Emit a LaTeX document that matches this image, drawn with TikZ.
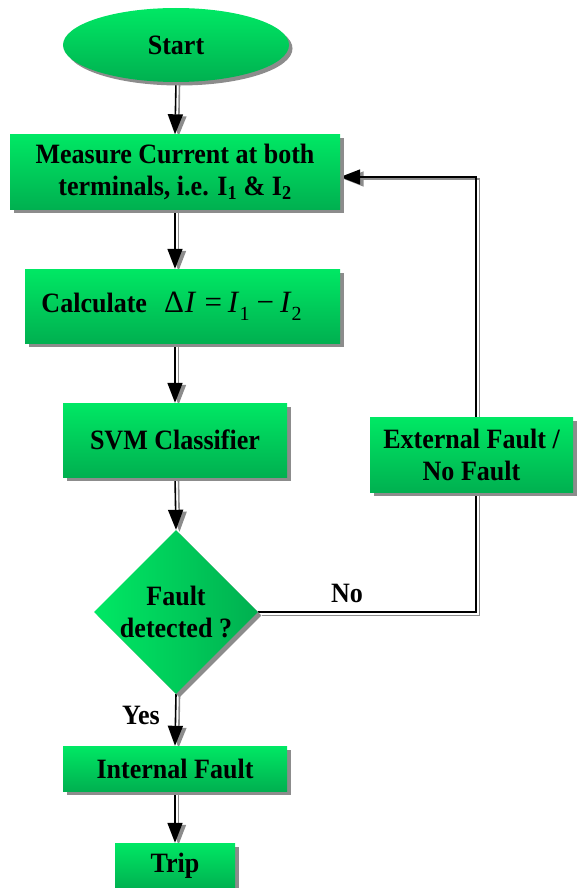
\documentclass[tikz,border=0pt]{standalone}
\usepackage{fontspec}
\setmainfont{Liberation Serif}[FakeStretch=0.93]
\newfontfamily\mathserif{Liberation Serif}
\usetikzlibrary{shapes.geometric,shadows,arrows.meta,backgrounds}
\definecolor{gtop}{RGB}{0,232,100}
\definecolor{gbot}{RGB}{0,176,80}
\definecolor{shade}{RGB}{140,140,140}
\tikzset{
  x=1pt,y=-1pt,
  base/.style={inner sep=0pt, align=center, text=black,
    font=\bfseries\fontsize{28}{32}\selectfont,
    drop shadow={shadow xshift=3.5pt, shadow yshift=-3.5pt, fill=shade, opacity=1}},
  procbox/.style={base, rectangle, top color=gtop, bottom color=gbot},
  termnode/.style={base, ellipse, top color=gtop, bottom color=gbot},
  decnode/.style={base, diamond, aspect=1, shading=axis, shading angle=45,
    left color=gtop, right color=gbot},
  conn/.style={line width=1.6pt, black, -{Triangle[length=20pt,width=15pt]},
    preaction={draw=shade, line width=1.6pt, -{Triangle[length=20pt,width=15pt]},
      transform canvas={xshift=3.5pt, yshift=-2pt}}},
  link/.style={line width=1.6pt, black,
    preaction={draw=shade, line width=1.6pt,
      transform canvas={xshift=3.5pt, yshift=-3.5pt}}},
  lbl/.style={font=\bfseries\fontsize{28}{32}\selectfont, inner sep=0pt}
}
\newcommand{\sbsc}[1]{\raisebox{-8pt}{\fontsize{20}{20}\selectfont #1}}
\begin{document}
\begin{tikzpicture}
\useasboundingbox (0,0) rectangle (576,888);

\node[termnode, minimum width=226pt, minimum height=74pt] (start) at (176,45) {Start};
\node[procbox, minimum width=330pt, minimum height=75pt] (measure) at (175,172)
  {Measure Current at both\\terminals, i.e. I\textsubscript{1} \& I\textsubscript{2}};
\node[procbox, minimum width=315pt, minimum height=74pt] (calc) at (182.5,306)
  {\hspace*{-22pt}Calculate\hspace{17pt}{\mathserif\mdseries\fontsize{31}{31}\selectfont Δ\kern1pt\textit{I}\kern8pt=\kern6pt\textit{I}\sbsc{1}\kern7pt−\kern6pt\textit{I}\sbsc{2}}};
\node[procbox, minimum width=224pt, minimum height=74pt] (svm) at (175,440) {SVM Classifier};
\node[procbox, minimum width=203pt, minimum height=75pt] (ext) at (471.5,455)
  {External Fault /\\No Fault};
\node[decnode, minimum width=164pt, minimum height=164pt] (dec) at (176,612)
  {Fault\\detected ?};
\node[procbox, minimum width=224pt, minimum height=45pt] (internal) at (175,768.5) {Internal Fault};
\node[procbox, minimum width=120pt, minimum height=46pt] (trip) at (175,866) {Trip};

\coordinate (loopbot) at (476,612);
\coordinate (looptop) at (476,177);

\begin{scope}[on background layer]
  \draw[conn] (start.south) -- (measure.north);
  \draw[conn] (measure.south) -- (calc.north -| measure.south);
  \draw[conn] (calc.south -| measure.south) -- (svm.north);
  \draw[conn] (svm.south) -- (dec.north);
  \draw[conn] (dec.south) -- (internal.north);
  \draw[conn] (internal.south) -- (trip.north);
  \draw[link] (dec.east) -- (loopbot) -- (ext.south -| loopbot);
  \draw[conn] (ext.north -| looptop) -- (looptop) -- (looptop -| measure.east);
\end{scope}

\node[lbl] (nolbl) at (347,593) {No};
\node[lbl] (yeslbl) at (141,715) {Yes};
\end{tikzpicture}
\end{document}
